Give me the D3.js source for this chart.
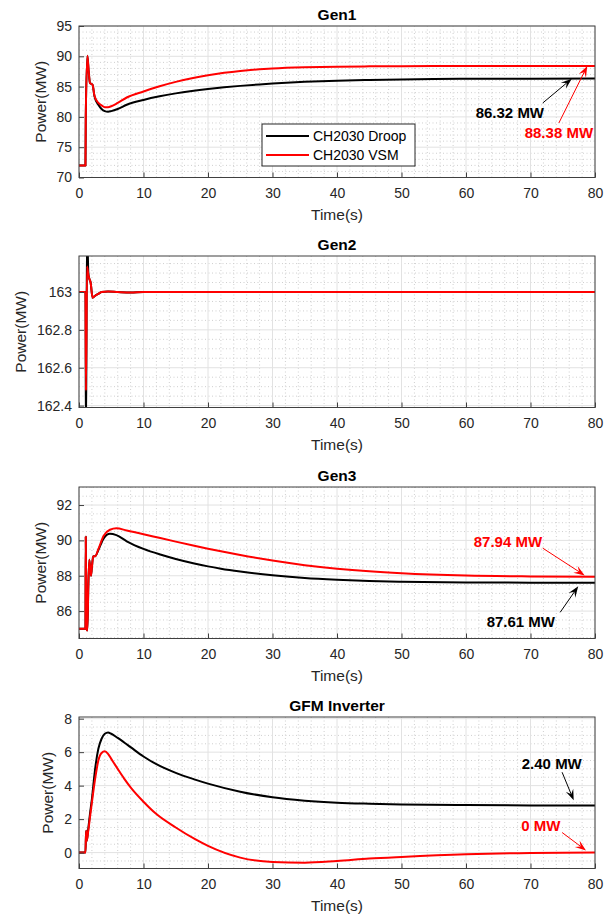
<!DOCTYPE html>
<html>
<head>
<meta charset="utf-8">
<script src="https://cdn.jsdelivr.net/npm/d3@7"></script>
<style>
  body { margin: 0; background: #fff; }
  text { font-family: "Liberation Sans", Arial, Helvetica, sans-serif; }
</style>
</head>
<body>
<div id="chart"></div>
<script>
// shared time axis + legend
var timeTicks = [0, 10, 20, 30, 40, 50, 60, 70, 80];
var seriesNames = ["CH2030 Droop", "CH2030 VSM"];
var seriesColors = ["#000000", "#ff0000"];

// Gen1
var gen1Time  = [0, 1.0, 1.05, 1.3, 1.5, 1.7, 2.1, 2.4, 3.0, 3.5, 4.0, 4.5, 5.0, 6.0, 7.4, 10, 12.5, 15, 17.5, 20, 22.5, 25, 28, 30, 35, 40, 45, 50, 55, 60, 70, 80];
var gen1Vsm   = [72, 72, 80, 90.1, 87.5, 85.6, 85.3, 83.5, 82.3, 81.9, 81.6, 81.6, 81.75, 82.3, 83.2, 84.2, 85.05, 85.78, 86.38, 86.87, 87.27, 87.58, 87.85, 87.98, 88.18, 88.29, 88.34, 88.37, 88.38, 88.38, 88.38, 88.38];
var gen1Droop = [72, 72, 80, 90.1, 87.5, 85.6, 85.3, 83.4, 82.0, 81.3, 80.95, 80.85, 80.95, 81.3, 82.0, 82.8, 83.4, 83.88, 84.27, 84.6, 84.88, 85.12, 85.36, 85.5, 85.78, 85.98, 86.1, 86.19, 86.25, 86.28, 86.31, 86.32];
var gen1Ticks = [70, 75, 80, 85, 90, 95];
var gen1Notes = [
  {text: "86.32 MW", color: "#000000", tx: 66.8, ty: 80.7, x1: 71.9, y1: 82.3, x2: 76.4, y2: 86.3},
  {text: "88.38 MW", color: "#ff0000", tx: 74.4, ty: 77.4, x1: 74.4, y1: 79.0, x2: 78.8, y2: 88.4}
];

// Gen2
var gen2Time  = [0, 1.0, 1.08, 1.25, 1.45, 1.6, 1.8, 2.1, 2.5, 3.0, 3.5, 4.5, 6, 8, 10, 15, 80];
var gen2Vsm   = [163, 163, 162.48, 163.135, 163.09, 163.07, 163.05, 162.97, 162.98, 162.99, 163.0, 163.003, 163.0, 162.997, 163.0, 163.0, 163.0];
var gen2Droop = [163, 163, 162.2, 163.35, 163.1, 163.07, 163.05, 162.97, 162.98, 162.99, 163.0, 163.003, 163.0, 162.997, 163.0, 163.0, 163.0];
var gen2Ticks = [162.4, 162.6, 162.8, 163];

// Gen3
var gen3Time  = [0, 1.0, 1.05, 1.15, 1.3, 1.45, 1.6, 1.85, 2.0, 2.2, 2.5, 3.0, 3.8, 4.8, 5.8, 7.4, 10, 12.6, 15, 17.7, 20, 22, 25, 30, 35, 40, 45, 50, 60, 70, 80];
var gen3Vsm   = [85, 85, 90.2, 85.0, 84.9, 87.5, 88.9, 88.0, 88.5, 89.1, 89.1, 89.5, 90.25, 90.6, 90.68, 90.56, 90.35, 90.13, 89.93, 89.71, 89.53, 89.38, 89.17, 88.86, 88.6, 88.4, 88.25, 88.14, 88.01, 87.96, 87.94];
var gen3Droop = [85, 85, 90.2, 85.0, 84.9, 87.5, 88.9, 88.0, 88.5, 89.1, 89.1, 89.45, 90.1, 90.38, 90.3, 89.95, 89.52, 89.2, 88.95, 88.71, 88.53, 88.4, 88.24, 88.03, 87.87, 87.77, 87.7, 87.66, 87.62, 87.61, 87.61];
var gen3Ticks = [86, 88, 90, 92];
var gen3Notes = [
  {text: "87.94 MW", color: "#ff0000", tx: 66.5, ty: 89.92, x1: 71.9, y1: 89.56, x2: 78.4, y2: 88.02},
  {text: "87.61 MW", color: "#000000", tx: 68.5, ty: 85.42, x1: 74.6, y1: 85.93, x2: 77.4, y2: 87.4}
];

// GFM inverter
var gfmTime  = [0, 1.0, 1.1, 1.2, 1.4, 1.7, 2.0, 2.5, 3.0, 3.5, 4.0, 4.5, 5.0, 6.0, 7.0, 8.0, 10, 12, 15, 18, 20, 25, 30, 35, 40, 45, 50, 60, 70, 80];
var gfmVsm   = [0, 0, 1.3, 0.7, 1.2, 2.1, 3.0, 4.4, 5.5, 5.95, 6.05, 5.9, 5.6, 5.0, 4.42, 3.9, 3.04, 2.3, 1.5, 0.8, 0.4, -0.3, -0.56, -0.6, -0.5, -0.36, -0.26, -0.1, -0.02, 0.0];
var gfmDroop = [0, 0, 1.3, 0.7, 1.3, 2.3, 3.2, 5.0, 6.2, 6.8, 7.1, 7.18, 7.1, 6.85, 6.58, 6.3, 5.74, 5.28, 4.76, 4.36, 4.12, 3.64, 3.3, 3.1, 2.98, 2.92, 2.88, 2.84, 2.82, 2.82];
var gfmTicks = [0, 2, 4, 6, 8];
var gfmNotes = [
  {text: "2.40 MW", color: "#000000", tx: 73.3, ty: 5.28, x1: 74.9, y1: 4.8, x2: 76.7, y2: 3.12},
  {text: "0 MW", color: "#ff0000", tx: 71.6, ty: 1.62, x1: 74.9, y1: 1.2, x2: 78.6, y2: 0.13}
];

var panels = [
  {title: "Gen1", top: 26, time: gen1Time, series: [gen1Droop, gen1Vsm], yDomain: [70, 95], yTicks: gen1Ticks, yMinor: 1, labelX: 41, notes: gen1Notes, legend: true},
  {title: "Gen2", top: 256, time: gen2Time, series: [gen2Droop, gen2Vsm], yDomain: [162.39, 163.19], yTicks: gen2Ticks, yMinor: 0.05, labelX: 21, notes: [], legend: false},
  {title: "Gen3", top: 487, time: gen3Time, series: [gen3Droop, gen3Vsm], yDomain: [84.45, 93.02], yTicks: gen3Ticks, yMinor: 0.5, labelX: 41, notes: gen3Notes, legend: false},
  {title: "GFM Inverter", top: 717, time: gfmTime, series: [gfmDroop, gfmVsm], yDomain: [-0.95, 8.1], yTicks: gfmTicks, yMinor: 0.5, labelX: 48, notes: gfmNotes, legend: false}
];

var left = 79, right = 595, height = 151.5;
var width = right - left;
var axisColor = "#404040", textColor = "#262626";

var svg = d3.select("#chart").append("svg")
    .attr("width", 614)
    .attr("height", 917);

panels.forEach(function(p, pi) {
  var g = svg.append("g").attr("transform", "translate(" + left + "," + p.top + ")");

  var x = d3.scaleLinear().domain([0, 80]).range([0, width]);
  var y = d3.scaleLinear().domain(p.yDomain).range([height, 0]);

  // minor grid (dotted)
  var xMinor = d3.range(0, 80.001, 2).filter(function(v) { return v % 10 !== 0; });
  var s = p.yMinor;
  var yMinor = d3.range(Math.ceil(p.yDomain[0] / s) * s, p.yDomain[1] + 1e-9, s)
      .filter(function(v) { return !p.yTicks.some(function(t) { return Math.abs(t - v) < 1e-6; }); });

  g.selectAll(".xminor").data(xMinor).enter().append("line")
      .attr("x1", function(d) { return x(d); }).attr("x2", function(d) { return x(d); })
      .attr("y1", 0).attr("y2", height)
      .attr("stroke", "#cfcfcf").attr("stroke-dasharray", "1,2.5");
  g.selectAll(".yminor").data(yMinor).enter().append("line")
      .attr("x1", 0).attr("x2", width)
      .attr("y1", function(d) { return y(d); }).attr("y2", function(d) { return y(d); })
      .attr("stroke", "#cfcfcf").attr("stroke-dasharray", "1,2.5");

  // major grid
  g.selectAll(".xmajor").data(timeTicks).enter().append("line")
      .attr("x1", function(d) { return x(d); }).attr("x2", function(d) { return x(d); })
      .attr("y1", 0).attr("y2", height)
      .attr("stroke", "#e2e2e2");
  g.selectAll(".ymajor").data(p.yTicks).enter().append("line")
      .attr("x1", 0).attr("x2", width)
      .attr("y1", function(d) { return y(d); }).attr("y2", function(d) { return y(d); })
      .attr("stroke", "#e2e2e2");

  // clip for the lines
  svg.append("clipPath").attr("id", "clip" + pi)
    .append("rect").attr("width", width).attr("height", height);

  var line = d3.line()
      .x(function(d) { return x(d[0]); })
      .y(function(d) { return y(d[1]); })
      .curve(d3.curveMonotoneX);

  p.series.forEach(function(vals, si) {
    var pts = p.time.map(function(t, i) { return [t, vals[i]]; });
    g.append("path")
        .datum(pts)
        .attr("clip-path", "url(#clip" + pi + ")")
        .attr("fill", "none")
        .attr("stroke", seriesColors[si])
        .attr("stroke-width", 2)
        .attr("stroke-linejoin", "round")
        .attr("d", line);
  });

  // axes
  var xAxis = g.append("g")
      .attr("transform", "translate(0," + height + ")")
      .call(d3.axisBottom(x).tickValues(timeTicks).tickSizeInner(-5).tickSizeOuter(0).tickPadding(11));
  var yAxis = g.append("g")
      .call(d3.axisLeft(y).tickValues(p.yTicks).tickSizeInner(-5).tickSizeOuter(0).tickPadding(7)
        .tickFormat(d3.format("~f")));
  [xAxis, yAxis].forEach(function(a) {
    a.select(".domain").remove();
    a.selectAll(".tick line").attr("stroke", axisColor);
    a.selectAll(".tick text").attr("fill", textColor).style("font-size", "14px")
        .style("font-family", '"Liberation Sans", Arial, sans-serif');
  });

  // box
  g.append("rect")
      .attr("width", width).attr("height", height)
      .attr("fill", "none").attr("stroke", axisColor).attr("stroke-width", 1);

  // title + labels
  g.append("text")
      .attr("x", width / 2).attr("y", -6.5)
      .attr("text-anchor", "middle")
      .style("font-size", "15.5px").style("font-weight", "bold")
      .attr("fill", "#000")
      .text(p.title);
  g.append("text")
      .attr("x", width / 2).attr("y", height + 42.5)
      .attr("text-anchor", "middle")
      .style("font-size", "15.5px")
      .attr("fill", textColor)
      .text("Time(s)");
  svg.append("text")
      .attr("transform", "translate(" + p.labelX + "," + (p.top + height / 2) + ") rotate(-90)")
      .attr("text-anchor", "middle")
      .attr("dy", "0.35em")
      .style("font-size", "15.5px")
      .attr("fill", textColor)
      .text("Power(MW)");

  // annotations
  p.notes.forEach(function(n) {
    g.append("text")
        .attr("x", x(n.tx)).attr("y", y(n.ty))
        .attr("dy", "0.35em")
        .attr("text-anchor", "middle")
        .style("font-size", "15px").style("font-weight", "bold")
        .attr("fill", n.color)
        .text(n.text);
    var ax1 = x(n.x1), ay1 = y(n.y1), ax2 = x(n.x2), ay2 = y(n.y2);
    var dx = ax2 - ax1, dy = ay2 - ay1, len = Math.sqrt(dx * dx + dy * dy);
    var ux = dx / len, uy = dy / len, nx = -uy, ny = ux;
    var L = 11, W = 4;
    g.append("line")
        .attr("x1", ax1).attr("y1", ay1)
        .attr("x2", ax2 - 0.6 * L * ux).attr("y2", ay2 - 0.6 * L * uy)
        .attr("stroke", n.color).attr("stroke-width", 1);
    var head = [
      [ax2, ay2],
      [ax2 - L * ux + W * nx, ay2 - L * uy + W * ny],
      [ax2 - 0.6 * L * ux, ay2 - 0.6 * L * uy],
      [ax2 - L * ux - W * nx, ay2 - L * uy - W * ny]
    ];
    g.append("path")
        .attr("d", "M" + head.join("L") + "Z")
        .attr("fill", n.color);
  });

  // legend
  if (p.legend) {
    var lg = svg.append("g").attr("transform", "translate(262,124)");
    lg.append("rect")
        .attr("width", 153).attr("height", 42)
        .attr("fill", "#fff").attr("stroke", "#262626").attr("stroke-width", 1);
    seriesNames.forEach(function(name, i) {
      var ry = 12 + i * 19;
      lg.append("line")
          .attr("x1", 4).attr("x2", 47)
          .attr("y1", ry).attr("y2", ry)
          .attr("stroke", seriesColors[i]).attr("stroke-width", 2);
      lg.append("text")
          .attr("x", 51).attr("y", ry)
          .attr("dy", "0.35em")
          .style("font-size", "14px")
          .attr("fill", "#000")
          .text(name);
    });
  }
});
</script>
</body>
</html>
